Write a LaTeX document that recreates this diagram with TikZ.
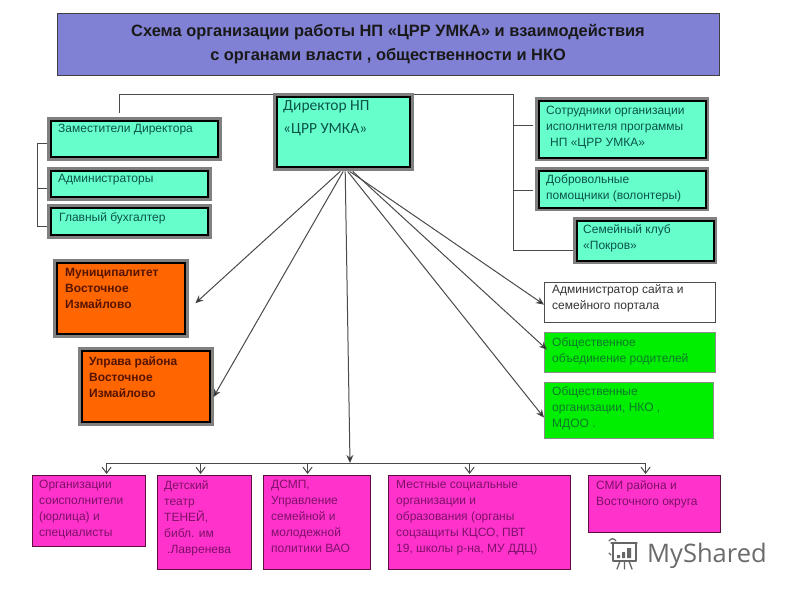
\documentclass[tikz,border=0pt]{standalone}
\usepackage{fontspec}
\setmainfont{Liberation Sans}
\newfontfamily\dirfont{Carlito}
\newfontfamily\wmfont{Open Sans}
\usetikzlibrary{arrows.meta,calc}
\definecolor{aquaF}{HTML}{66FFCC}
\definecolor{aquaT}{HTML}{0B5348}
\definecolor{magF}{HTML}{FF33CC}
\definecolor{magT}{HTML}{7D1068}
\definecolor{magE}{HTML}{5C0F3F}
\definecolor{orF}{HTML}{FF6600}
\definecolor{orT}{HTML}{551400}
\definecolor{grF}{HTML}{00EE00}
\definecolor{grT}{HTML}{0A7A2A}
\definecolor{titleF}{HTML}{8080D4}
\definecolor{lineC}{HTML}{4A4A4A}
\definecolor{frameG}{HTML}{808080}
\tikzset{
  txt/.style={anchor=north west,inner sep=0pt,align=left,font=\fontsize{12}{16}\selectfont},
  plainbox/.style={draw=#1,line width=1.2pt,inner sep=0pt},
  link/.style={draw=lineC,line width=1pt},
  solidarrow/.style={link,-{Stealth[length=8pt,width=7pt,fill=black]}},
  openarrow/.style={link,-{Straight Barb[length=6pt,width=9pt]}},
  wm/.style={draw=#1,line width=1.3pt,line cap=round,line join=round}
}
% name x1 y1 x2 y2 edge fill
\newcommand{\flatbox}[7]{%
  \node[plainbox=#6,fill=#7,minimum width=#4pt-#2pt,minimum height=#5pt-#3pt,anchor=north west] (#1) at (#2,#3) {};}
% name x1 y1 x2 y2 fill gray-width black-width
\newcommand{\tribox}[8]{%
  \node[draw=none,fill=frameG,inner sep=0pt,minimum width=#4pt-#2pt,minimum height=#5pt-#3pt,anchor=north west] (#1) at (#2,#3) {};
  \fill[black] ($(#1.north west)+(#7,#7)$) rectangle ($(#1.south east)-(#7,#7)$);
  \fill[#6] ($(#1.north west)+(#7+#8,#7+#8)$) rectangle ($(#1.south east)-(#7+#8,#7+#8)$);}
\begin{document}
\begin{tikzpicture}[x=1pt,y=-1pt]
\useasboundingbox (0,0) rectangle (800,600);
\fill[white] (0,0) rectangle (800,600);
% title
\node[draw=black!75,line width=1pt,fill=titleF,minimum width=662pt,minimum height=62pt,inner sep=0pt,align=center,
  font=\fontsize{16.4}{24}\selectfont\bfseries,text=black!90] (title) at (388,44)
  {Схема организации работы  НП «ЦРР УМКА» и взаимодействия\\с органами власти , общественности и НКО};
% framed boxes
\tribox{dir}{273}{93}{414}{171}{aquaF}{3}{2.2}
\tribox{zam}{47}{117}{222}{161}{aquaF}{3}{2}
\tribox{adm}{47}{167}{212}{201}{aquaF}{3}{2.4}
\tribox{buh}{47}{204}{212}{239}{aquaF}{3}{2.4}
\tribox{sot}{535}{97}{709}{161}{aquaF}{2.5}{2.2}
\tribox{dob}{535}{167}{709}{211}{aquaF}{2.5}{2.4}
\tribox{sem}{573}{217}{717}{264}{aquaF}{2.5}{2.2}
\tribox{mun}{53}{259}{189}{338}{orF}{3}{2.2}
\tribox{upr}{78}{347}{214}{426}{orF}{3}{2.2}
% flat boxes
\flatbox{site}{544}{282}{715}{322}{black!70}{white}
\flatbox{rod}{544}{332}{715}{372}{black!45}{grF}
\flatbox{org}{544}{382}{713}{438}{black!45}{grF}
\flatbox{b1}{32}{475}{145}{546}{magE}{magF}
\flatbox{b2}{157}{475}{251}{569}{magE}{magF}
\flatbox{b3}{263}{475}{370}{569}{magE}{magF}
\flatbox{b4}{388}{475}{570}{569}{magE}{magF}
\flatbox{b5}{588}{475}{720}{532}{magE}{magF}
% texts
\node[txt,font=\dirfont\fontsize{15.5}{23.5}\selectfont,text=aquaT] (tdir) at (283,100) {Директор НП\\«ЦРР УМКА»};
\node[txt,text=aquaT] (tzam) at (58,124) {Заместители Директора};
\node[txt,text=aquaT] (tadm) at (58,174) {Администраторы};
\node[txt,text=aquaT] (tbuh) at (59,212) {Главный бухгалтер};
\node[txt,text=aquaT] (tsot) at (546,106) {Сотрудники организации\\исполнителя программы\\\hspace*{4pt}НП «ЦРР УМКА»};
\node[txt,text=aquaT] (tdob) at (546,174) {Добровольные\\помощники (волонтеры)};
\node[txt,text=aquaT] (tsem) at (583,224) {Семейный клуб\\«Покров»};
\node[txt,text=orT,font=\fontsize{12}{16}\selectfont\bfseries] (tmun) at (65,268) {Муниципалитет\\Восточное\\Измайлово};
\node[txt,text=orT,font=\fontsize{12}{16}\selectfont\bfseries] (tupr) at (89,356) {Управа района\\Восточное\\Измайлово};
\node[txt,text=black!80] (tsite) at (552,284) {Администратор сайта и\\семейного портала};
\node[txt,text=grT] (trod) at (552,337) {Общественное\\объединение родителей};
\node[txt,text=grT] (torg) at (552,386) {Общественные\\организации,  НКО ,\\МДОО  .};
\node[txt,text=magT] (tb1) at (39,480) {Организации\\соисполнители\\(юрлица) и\\специалисты};
\node[txt,text=magT] (tb2) at (164,480) {Детский\\театр\\ТЕНЕЙ,\\библ. им\\\hspace*{3pt}.Лавренева};
\node[txt,text=magT] (tb3) at (271,480) {ДСМП,\\Управление\\семейной и\\молодежной\\политики ВАО};
\node[txt,text=magT] (tb4) at (396,480) {Местные социальные\\организации  и\\образования (органы\\соцзащиты КЦСО, ПВТ\\19, школы р-на, МУ ДДЦ)};
\node[txt,text=magT] (tb5) at (596,480) {СМИ  района и\\Восточного округа};
% top-left and top-right links
\draw[link] ([yshift=38pt]dir.west) -| ([xshift=-15.5pt,yshift=4pt]zam.north);
\coordinate (rs) at (513,250);
\draw[link] ([yshift=38pt]dir.east) -| (rs) -- (sem.west |- rs);
\coordinate (sotb) at ([xshift=-2pt,yshift=4pt]sot.west);
\coordinate (dobb) at ([xshift=-2pt,yshift=-1pt]dob.west);
\draw[link] (rs |- sotb) -- (sotb);
\draw[link] (rs |- dobb) -- (dobb);
% left bracket
\coordinate (zamb) at ([yshift=-4pt]zam.west);
\coordinate (admb) at ([yshift=-4pt]adm.west);
\coordinate (buhb) at ([yshift=-4.5pt]buh.west);
\coordinate (ls) at (37,143);
\draw[link] (zamb) -- (ls |- zamb) -- (ls |- buhb) -- (buhb);
\draw[link] (admb) -- (ls |- admb);
% director arrows
\draw[solidarrow] ([xshift=-3.5pt]dir.south) -- ([xshift=6pt,yshift=-4.5pt]mun.east);
\draw[solidarrow] ([xshift=-0.5pt]dir.south) -- ([xshift=-1pt,yshift=-10.5pt]upr.east);
\coordinate (busM) at (350,463);
\draw[solidarrow] ([xshift=1.5pt]dir.south) -- (busM);
\draw[solidarrow] ([xshift=6pt]dir.south) -- ([yshift=-2pt]site.west);
\draw[solidarrow] ([xshift=9pt]dir.south) -- ([xshift=3pt,yshift=3pt]rod.west);
\draw[solidarrow] ([xshift=4pt]dir.south) -- ([yshift=-7pt]org.west);
% bus
\coordinate (d1) at ([xshift=17.5pt,yshift=1pt]b1.north);
\coordinate (d2) at ([xshift=-4pt,yshift=1pt]b2.north);
\coordinate (d3) at ([xshift=-9.5pt,yshift=1pt]b3.north);
\coordinate (d4) at ([xshift=-10pt,yshift=1pt]b4.north);
\coordinate (d5) at ([xshift=-9pt,yshift=1pt]b5.north);
\draw[link] (d1 |- busM) -- (d5 |- busM);
\foreach \d in {d1,d2,d3,d4,d5} \draw[openarrow] (\d |- busM) -- (\d);
% watermark
\node[anchor=base west,inner sep=0pt,text=black!58,font=\wmfont\fontsize{25.5}{25.5}\selectfont] (mark) at (647,562) {MyShared};
\draw[wm=black!60] (611,543) -- (637,543) (613,543) -- (613,561) -- (636,561) -- (636,543);
\draw[wm=black!60] (609,541) .. controls (611,538) and (614,538) .. (616,541);
\draw[wm=black!60] (611,555) -- (609,553) (620,561) -- (617,569) (629,561) -- (632,569) (624.5,561) -- (624.5,569);
\fill[black!60] (617,555) rectangle (620,558) (622,552) rectangle (625,558) (627,548) rectangle (631,558);
\end{tikzpicture}
\end{document}
